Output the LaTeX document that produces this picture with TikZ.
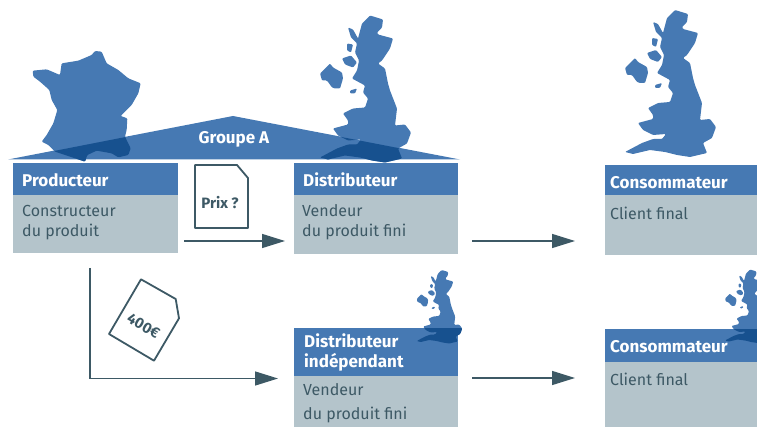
\documentclass[tikz,border=0pt]{standalone}
\usepackage{fontspec}
\setmainfont{Fira Sans}
\usetikzlibrary{arrows.meta}

\definecolor{mapblue}{HTML}{4679B3}
\definecolor{mapdark}{HTML}{17518F}
\definecolor{bodygray}{HTML}{B4C4CB}
\definecolor{slate}{HTML}{3D5965}

\tikzset{
	headbox/.style={fill=mapblue,inner sep=0,outer sep=0,anchor=north west},
	bodybox/.style={fill=bodygray,inner sep=0,outer sep=0,anchor=north west},
	headtext/.style={text=white,font=\fontsize{17}{20}\selectfont\bfseries,anchor=west,align=left,inner sep=0},
	bodytext/.style={text=slate,font=\fontsize{16}{19.5}\selectfont,anchor=west,align=left,inner sep=0},
	flow/.style={draw=slate,line width=1.4pt,-{Triangle[length=23pt,width=14pt]}},
	docu/.style={draw=slate,line width=1.8pt,fill=white,line join=round},
	doctext/.style={text=slate,font=\fontsize{15}{18}\selectfont\bfseries,inner sep=0},
	mapshape/.style={rounded corners=1pt}
}

% outline of the British Isles, measured from the crop
\newcommand{\ukshape}{(85,10) -- (98,14) -- (97,22) -- (92,27) -- (93,29) -- (108,33) -- (105,43) -- (97,55) -- (93,58) -- (100,63) -- (103,78) -- (105,85) -- (112,103) -- (110,120) -- (120,119) -- (126,127) -- (122,138) -- (113,143) -- (117,153) -- (100,157) -- (87,155) -- (75,152) -- (60,150) -- (43,154) -- (35,152) -- (52,143) -- (63,139) -- (72,139) -- (76,134) -- (63,135) -- (53,130) -- (48,123) -- (63,119) -- (63,115) -- (58,108) -- (68,103) -- (80,102) -- (83,93) -- (78,87) -- (80,80) -- (67,73) -- (72,65) -- (74,55) -- (70,47) -- (72,38) -- (66,32) -- (63,22) -- (68,24) -- (73,33) -- (77,18) -- cycle
	(35,68) -- (45,58) -- (48,62) -- (57,67) -- (58,73) -- (55,83) -- (50,83) -- (47,82) -- (42,75) -- (37,75) -- cycle
	(62,38) -- (68,39) -- (66,47) -- (62,45) -- cycle
	(57,53) -- (66,50) -- (72,57) -- (68,62) -- (60,59) -- cycle
	(65,85) -- (72,83) -- (70,88) -- (65,88) -- cycle}
\newcommand{\franceshape}{(98,92) -- (140,88) -- (180,105) -- (185,70) -- (235,62) -- (275,45) -- (285,33) -- (305,35) -- (320,70) -- (355,90) -- (385,115) -- (422,130) -- (415,160) -- (395,195) -- (362,228) -- (382,235) -- (380,270) -- (375,290) -- (392,325) -- (385,345) -- (355,352) -- (335,340) -- (290,332) -- (262,345) -- (255,365) -- (210,350) -- (165,335) -- (145,315) -- (125,305) -- (140,285) -- (160,250) -- (172,210) -- (155,180) -- (148,150) -- (120,125) -- (100,110) -- cycle}
\newcommand{\roofdark}{(8,160) -- (233,116) -- (460,160) -- (460,166) -- (8,166) -- cycle}
% #1 x, #2 y, #3 scale, #4 region where the map turns dark
\newcommand{\ukmap}[4]{
	\fill[mapblue,mapshape,shift={(#1,#2)},scale=#3] \ukshape;
	\begin{scope}
		\clip #4;
		\fill[mapdark,mapshape,shift={(#1,#2)},scale=#3] \ukshape;
	\end{scope}
}

\begin{document}
\begin{tikzpicture}[x=1pt,y=-1pt]
		\clip (0,0) rectangle (757,427);
		
		% maps and roof of the group
		\fill[mapblue,mapshape,shift={(0,40)},scale=1/3] \franceshape;
		\ukmap{285}{5.5}{1}{(0,0) rectangle (757,1)}
		\ukmap{590}{0}{1}{(0,0) rectangle (757,1)}
		\fill[mapblue] (8,159.5) -- (233,116) -- (460,159.5) -- cycle;
		\begin{scope}
			\clip \roofdark;
			\fill[mapdark,mapshape,shift={(0,40)},scale=1/3] \franceshape;
			\fill[mapdark,mapshape,shift={(285,5.5)}] \ukshape;
		\end{scope}
		\node[text=white,font=\fontsize{17}{20}\selectfont\bfseries,inner sep=0] (groupe) at (234,139) {Groupe A};
		
		% boxes
		\node[bodybox,minimum width=165pt,minimum height=58pt] (prodbody) at (13,195) {};
		\node[headbox,minimum width=165pt,minimum height=32pt] (prodhead) at (13,163) {};
		\node[bodybox,minimum width=164pt,minimum height=59pt] (distbody) at (294,195) {};
		\node[headbox,minimum width=164pt,minimum height=32pt] (disthead) at (294,163) {};
		\node[bodybox,minimum width=152pt,minimum height=60pt] (consbody) at (605,195) {};
		\node[headbox,minimum width=152pt,minimum height=30pt] (conshead) at (605,165) {};
		\node[bodybox,minimum width=164pt,minimum height=51pt] (indepbody) at (294,376) {};
		\node[headbox,minimum width=164pt,minimum height=48pt] (indephead) at (294,328) {};
		\node[bodybox,minimum width=152pt,minimum height=65pt] (secondbody) at (605,362) {};
		\node[headbox,minimum width=152pt,minimum height=33pt] (secondhead) at (605,329) {};
		
		% small maps, dark where they cross the heads
		\ukmap{399.2}{265}{0.5}{(380,328) rectangle (470,360)}
		\ukmap{707.5}{264.5}{0.5}{(700,329) rectangle (757,360)}
		
		% labels
		\node[headtext] (prodlabel) at (22,180) {Producteur};
		\node[bodytext] (prodtext) at (22,222.5) {Constructeur\\du produit};
		\node[headtext] (distlabel) at (303,180) {Distributeur};
		\node[bodytext] (disttext) at (302,222) {Vendeur\\du produit fini};
		\node[headtext] (conslabel) at (610,183) {Consommateur};
		\node[bodytext] (constext) at (610,213) {Client final};
		\node[headtext] (indeplabel) at (304,352) {Distributeur\\indépendant};
		\node[bodytext,font=\fontsize{16}{24}\selectfont] (indeptext) at (303,403) {Vendeur\\du produit fini};
		\node[headtext] (secondlabel) at (610,347) {Consommateur};
		\node[bodytext] (secondtext) at (610,379) {Client final};
		
		% documents
		\draw[docu] (195,165) -- (237,165) -- (248,178) -- (248,228) -- (195,228) -- cycle;
		\node[doctext] (prix) at (220,203) {Prix ?};
		\draw[docu] (141,279.3) -- (175.7,299) -- (179,318.3) -- (154,360.7) -- (109,334) -- cycle;
		\node[doctext,rotate=-30] (montant) at (143.5,326) {400€};
		
		% arrows
		\coordinate (rowone) at (0,241);
		\coordinate (rowtwo) at (0,378);
		\coordinate (corner) at (90,378.5);
		\draw[flow,shorten <=6pt,shorten >=9pt] (rowone -| prodbody.east) -- (rowone -| distbody.west);
		\draw[flow,shorten <=14pt,shorten >=30pt] (rowone -| distbody.east) -- (rowone -| consbody.west);
		\draw[flow,shorten <=15pt,shorten >=16pt] (corner |- prodbody.south) -- (corner) -- (corner -| indepbody.west);
		\draw[flow,shorten <=14pt,shorten >=30pt] (rowtwo -| indepbody.east) -- (rowtwo -| secondbody.west);
		
		\end{tikzpicture}
\end{document}
